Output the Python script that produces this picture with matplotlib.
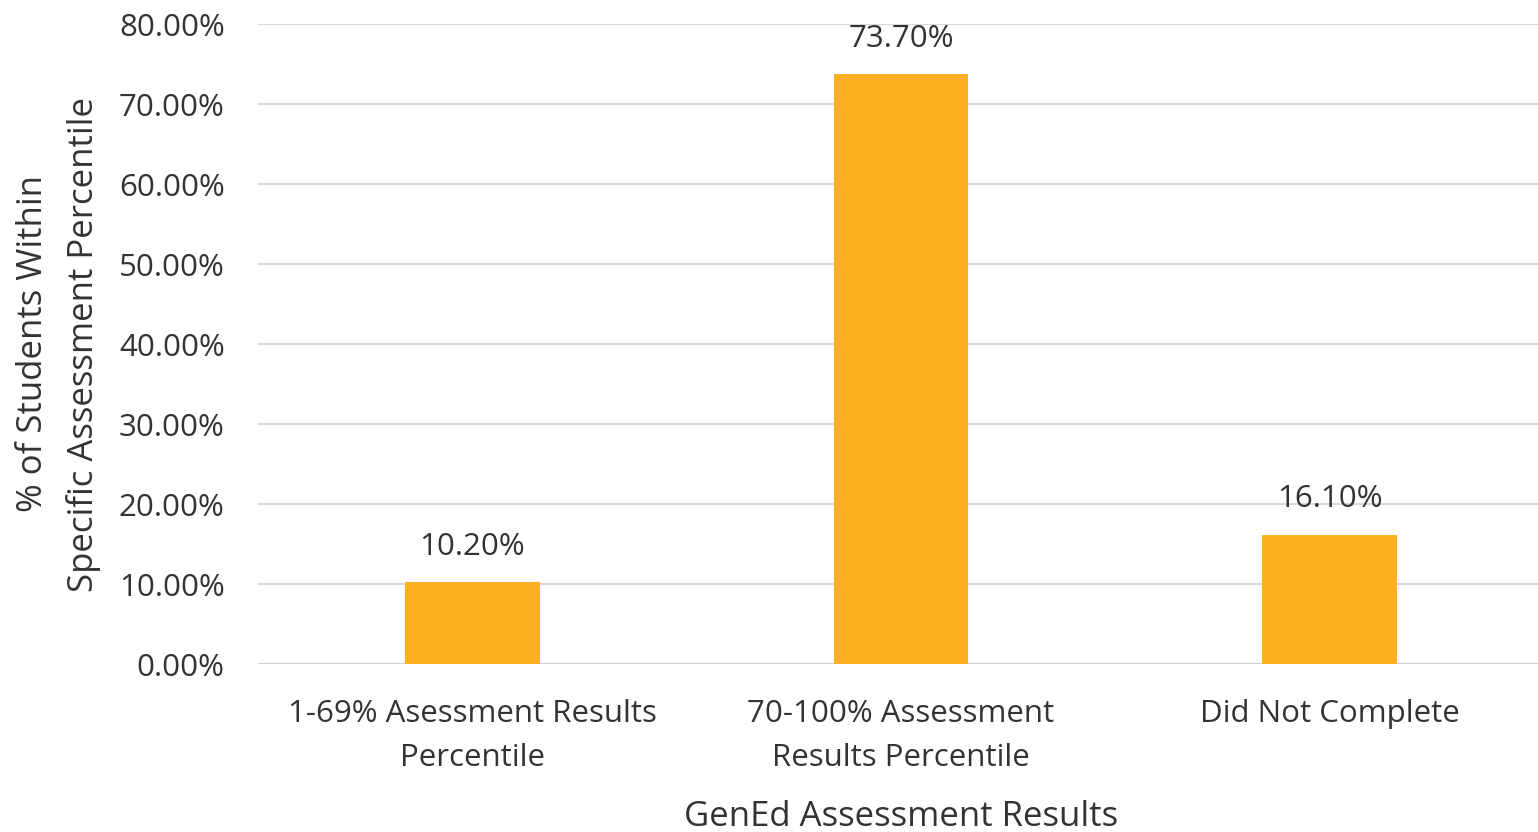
import matplotlib
matplotlib.use("Agg")
import matplotlib.pyplot as plt

categories = ["1-69% Asessment Results\nPercentile", "70-100% Assessment\nResults Percentile", "Did Not Complete"]
values = [10.20, 73.70, 16.10]
yticks = [0, 10, 20, 30, 40, 50, 60, 70, 80]

plt.rcParams['font.family'] = ['Open Sans', 'DejaVu Sans']
txt = '#333333'

fig = plt.figure(figsize=(15.38, 8.32), dpi=100)
ax = fig.add_axes([258/1538, 1-664/832, 1286/1538, 640/832])

x = list(range(len(categories)))
ax.bar(x, values, width=0.314, color='#FDB022', zorder=3)
for xi, v in zip(x, values):
    ax.annotate(f"{v:.2f}%", (xi, v), xytext=(0, 15), textcoords='offset points',
                ha='center', va='bottom', fontsize=22.5, color=txt)

ax.set_xlim(-0.5, 2.5)
ax.set_ylim(0, 80)
ax.set_yticks(yticks)
ax.set_yticklabels([f"{t:.2f}%" for t in yticks], fontsize=22.5, color=txt)
ax.set_xticks(x)
ax.set_xticklabels(categories, fontsize=22.5, color=txt, linespacing=1.6)
ax.tick_params(axis='y', length=0, pad=24)
ax.tick_params(axis='x', length=0, pad=25.5)
ax.grid(axis='y', color='#d9d9d9', linewidth=1.5, zorder=0)
for s in ax.spines.values():
    s.set_visible(False)
ax.axhline(0, color='#d0d0d0', linewidth=1.5, zorder=2)

ax.set_xlabel("GenEd Assessment Results", fontsize=25, color=txt, labelpad=19.5)
ax.set_ylabel("% of Students Within\nSpecific Assessment Percentile", fontsize=25, color=txt,
              labelpad=13, linespacing=1.6)

fig.savefig("out.png", dpi=100)
